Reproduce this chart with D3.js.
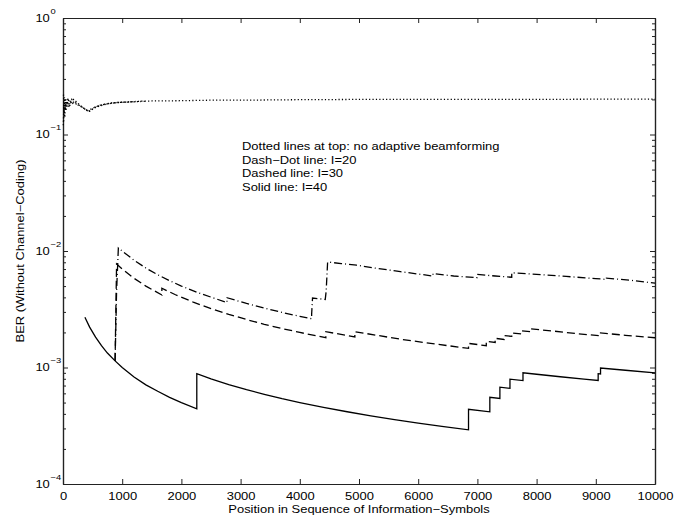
<!DOCTYPE html>
<html>
<head>
<meta charset="utf-8">
<script src="https://cdn.jsdelivr.net/npm/d3@7"></script>
<style>
  body { margin: 0; background: #fff; }
  svg text { font-family: "Liberation Sans", Arial, Helvetica, sans-serif; fill: #000; }
</style>
</head>
<body>
<div id="chart"></div>
<script>
// tick values
const xTicks = [0, 1000, 2000, 3000, 4000, 5000, 6000, 7000, 8000, 9000, 10000];
const yDecades = [1e-4, 1e-3, 1e-2, 1e-1, 1];
const yExponents = ["\u22124", "\u22123", "\u22122", "\u22121", "0"];

// Solid line: I=40
const solidPos = [370, 450, 550, 650, 750, 880, 1000, 1200, 1400, 1600, 1800, 2000, 2260, 2260, 2500, 2800, 3100,
    3400, 3700, 4000, 4400, 4800, 5200, 5600, 6000, 6400, 6850, 6850, 7210, 7210, 7380, 7380, 7550, 7550, 7770,
    7770, 8000, 8400, 8800, 9040, 9040, 9080, 9080, 9500, 10000];
const solidBer = [2.7e-3, 2.22e-3, 1.82e-3, 1.54e-3, 1.33e-3, 1.14e-3, 1.0e-3, 8.3e-4, 7.1e-4, 6.25e-4, 5.55e-4,
    5.0e-4, 4.42e-4, 8.85e-4, 8.0e-4, 7.14e-4, 6.45e-4, 5.88e-4, 5.4e-4, 5.0e-4, 4.55e-4, 4.17e-4, 3.85e-4, 3.57e-4,
    3.33e-4, 3.12e-4, 2.92e-4, 4.38e-4, 4.16e-4, 5.55e-4, 5.42e-4, 6.78e-4, 6.62e-4, 7.95e-4, 7.72e-4, 9.0e-4,
    8.75e-4, 8.33e-4, 7.95e-4, 7.74e-4, 8.85e-4, 8.81e-4, 9.9e-4, 9.47e-4, 9.0e-4];

// Dashed line: I=30
const dashedPos = [880, 905, 1000, 1200, 1400, 1670, 1670, 1900, 2200, 2500, 2800, 3100, 3400, 3700, 4000, 4440,
    4440, 4930, 4930, 5300, 5700, 6100, 6500, 6850, 6850, 7150, 7150, 7300, 7300, 7450, 7450, 7580, 7580, 7750,
    7750, 7900, 7900, 8300, 8700, 9080, 9080, 9500, 10000];
const dashedBer = [1.14e-3, 7.73e-3, 7.0e-3, 5.83e-3, 5.0e-3, 4.19e-3, 4.79e-3, 4.21e-3, 3.64e-3, 3.2e-3, 2.86e-3,
    2.58e-3, 2.35e-3, 2.16e-3, 2.0e-3, 1.8e-3, 2.03e-3, 1.83e-3, 2.03e-3, 1.89e-3, 1.75e-3, 1.64e-3, 1.54e-3,
    1.46e-3, 1.61e-3, 1.54e-3, 1.68e-3, 1.64e-3, 1.78e-3, 1.74e-3, 1.88e-3, 1.85e-3, 1.98e-3, 1.94e-3, 2.06e-3,
    2.03e-3, 2.15e-3, 2.05e-3, 1.95e-3, 1.87e-3, 1.98e-3, 1.89e-3, 1.8e-3];

// Dash-dot line: I=20
const dashDotPos = [880, 905, 935, 1000, 1200, 1400, 1600, 1800, 2000, 2300, 2770, 2770, 3100, 3400, 3700, 4000,
    4200, 4200, 4215, 4430, 4445, 4470, 4700, 4960, 5300, 5700, 6250, 6250, 6600, 6990, 6990, 7300, 7580, 7580,
    8000, 8500, 9000, 9180, 9180, 9600, 10000];
const dashDotBer = [1.14e-3, 4.5e-3, 1.06e-2, 1.0e-2, 8.33e-3, 7.14e-3, 6.25e-3, 5.56e-3, 5.0e-3, 4.35e-3, 3.61e-3,
    3.97e-3, 3.55e-3, 3.24e-3, 2.97e-3, 2.75e-3, 2.62e-3, 2.86e-3, 3.95e-3, 3.84e-3, 4.5e-3, 8.05e-3, 7.8e-3,
    7.55e-3, 7.1e-3, 6.65e-3, 6.1e-3, 6.4e-3, 6.1e-3, 5.9e-3, 6.3e-3, 6.1e-3, 5.95e-3, 6.5e-3, 6.3e-3, 6.05e-3,
    5.8e-3, 5.7e-3, 5.85e-3, 5.6e-3, 5.3e-3];

// Dotted lines: no adaptive beamforming
const dotted1Pos = [10, 25, 40, 60, 80, 100, 130, 160, 200, 260, 320, 380, 430, 470, 520, 600, 700, 800, 900, 1000,
    1100, 1300, 1500, 2000, 2500, 3000, 4000, 5000, 6000, 7000, 8000, 9000, 10000];
const dotted1Ber = [0.13, 0.21, 0.17, 0.19, 0.18, 0.2, 0.19, 0.185, 0.19, 0.178, 0.172, 0.165, 0.157, 0.16, 0.17,
    0.177, 0.182, 0.186, 0.188, 0.19, 0.19, 0.193, 0.194, 0.195, 0.197, 0.197, 0.199, 0.2, 0.2, 0.2, 0.2, 0.201, 0.201];
const dotted2Pos = [8, 20, 35, 50, 70, 90, 120, 150, 190, 240, 300, 360, 420, 500, 650, 900, 1400];
const dotted2Ber = [0.22, 0.15, 0.19, 0.16, 0.2, 0.17, 0.18, 0.2, 0.185, 0.182, 0.175, 0.166, 0.16, 0.168, 0.18,
    0.188, 0.193];
const dotted3Pos = [5, 15, 30, 45, 65, 85, 110, 140, 180, 230, 280, 350, 440, 560, 800, 1200];
const dotted3Ber = [0.12, 0.18, 0.14, 0.2, 0.175, 0.205, 0.175, 0.19, 0.2, 0.19, 0.18, 0.168, 0.158, 0.172, 0.186,
    0.192];

const legendLines = [
    "Dotted lines at top: no adaptive beamforming",
    "Dash\u2212Dot line: I=20",
    "Dashed line: I=30",
    "Solid line: I=40"
];

const W = 685, H = 520;
const margin = {top: 18, right: 30, bottom: 36, left: 63};
const stretch = "scale(1.2,1)";

const svg = d3.select("#chart").append("svg")
    .attr("width", W)
    .attr("height", H);

const x = d3.scaleLinear()
    .domain([0, 10000])
    .range([margin.left, W - margin.right]);

const y = d3.scaleLog()
    .domain([1e-4, 1])
    .range([H - margin.bottom, margin.top]);

// minor log ticks
let minorTicks = [];
yDecades.slice(0, -1).forEach(d => {
    for (let k = 2; k <= 9; k++) minorTicks.push(d * k);
});

// Axes with inward ticks
const axisColor = "#222";

const gx = svg.append("g")
    .attr("transform", `translate(0, ${y.range()[0]})`)
    .call(d3.axisBottom(x).tickValues(xTicks).tickSizeInner(-5).tickSizeOuter(0).tickPadding(8)
        .tickFormat(d3.format("d")));
gx.selectAll("text").attr("font-size", 10.8).attr("transform", stretch);

svg.append("g")
    .attr("transform", `translate(0, ${y.range()[1]})`)
    .call(d3.axisTop(x).tickValues(xTicks).tickSizeInner(-5).tickSizeOuter(0).tickFormat(""));

const gy = svg.append("g")
    .attr("transform", `translate(${x.range()[0]}, 0)`)
    .call(d3.axisLeft(y).tickValues(yDecades).tickSizeInner(-5).tickSizeOuter(0).tickPadding(11)
        .tickFormat(() => "10"));
gy.selectAll("text").attr("font-size", 10.8).attr("transform", stretch);
gy.selectAll(".tick").append("text")
    .attr("transform", `translate(-12.5, -5) ${stretch}`)
    .attr("text-anchor", "start")
    .attr("font-size", 7.8)
    .text((d, i) => yExponents[i]);

svg.append("g")
    .attr("transform", `translate(${x.range()[0]}, 0)`)
    .call(d3.axisLeft(y).tickValues(minorTicks).tickSizeInner(-3).tickSizeOuter(0).tickFormat(""));

svg.append("g")
    .attr("transform", `translate(${x.range()[1]}, 0)`)
    .call(d3.axisRight(y).tickValues(yDecades).tickSizeInner(-5).tickSizeOuter(0).tickFormat(""));

svg.append("g")
    .attr("transform", `translate(${x.range()[1]}, 0)`)
    .call(d3.axisRight(y).tickValues(minorTicks).tickSizeInner(-3).tickSizeOuter(0).tickFormat(""));

svg.selectAll(".domain, .tick line")
    .attr("stroke", axisColor)
    .attr("stroke-width", 1);
svg.selectAll(".domain").attr("stroke-width", 1.2);

// Lines
const line = d3.line()
    .x(d => x(d[0]))
    .y(d => y(d[1]));

const series = [
    {pos: dotted1Pos, ber: dotted1Ber, dash: "1.2,2.2"},
    {pos: dotted2Pos, ber: dotted2Ber, dash: "1.2,2.2"},
    {pos: dotted3Pos, ber: dotted3Ber, dash: "1.2,2.2"},
    {pos: dashDotPos, ber: dashDotBer, dash: "8,3,1,3"},
    {pos: dashedPos, ber: dashedBer, dash: "8,4"},
    {pos: solidPos, ber: solidBer, dash: null}
];

series.forEach(s => {
    svg.append("path")
        .datum(d3.zip(s.pos, s.ber))
        .attr("d", line)
        .attr("fill", "none")
        .attr("stroke", "#000")
        .attr("stroke-width", 1.3)
        .attr("stroke-dasharray", s.dash);
});

// Legend text
svg.append("g")
    .selectAll("text")
    .data(legendLines)
    .enter().append("text")
    .attr("transform", (d, i) => `translate(242, ${150 + i * 13.5}) ${stretch}`)
    .attr("font-size", 10.8)
    .text(d => d);

// Axis titles
svg.append("text")
    .attr("transform", `translate(${(x.range()[0] + x.range()[1]) / 2}, 513) ${stretch}`)
    .attr("text-anchor", "middle")
    .attr("font-size", 10.8)
    .text("Position in Sequence of Information\u2212Symbols");

svg.append("text")
    .attr("transform", `translate(24, ${(y.range()[0] + y.range()[1]) / 2}) rotate(-90) ${stretch}`)
    .attr("text-anchor", "middle")
    .attr("font-size", 10.8)
    .text("BER (Without Channel\u2212Coding)");
</script>
</body>
</html>
